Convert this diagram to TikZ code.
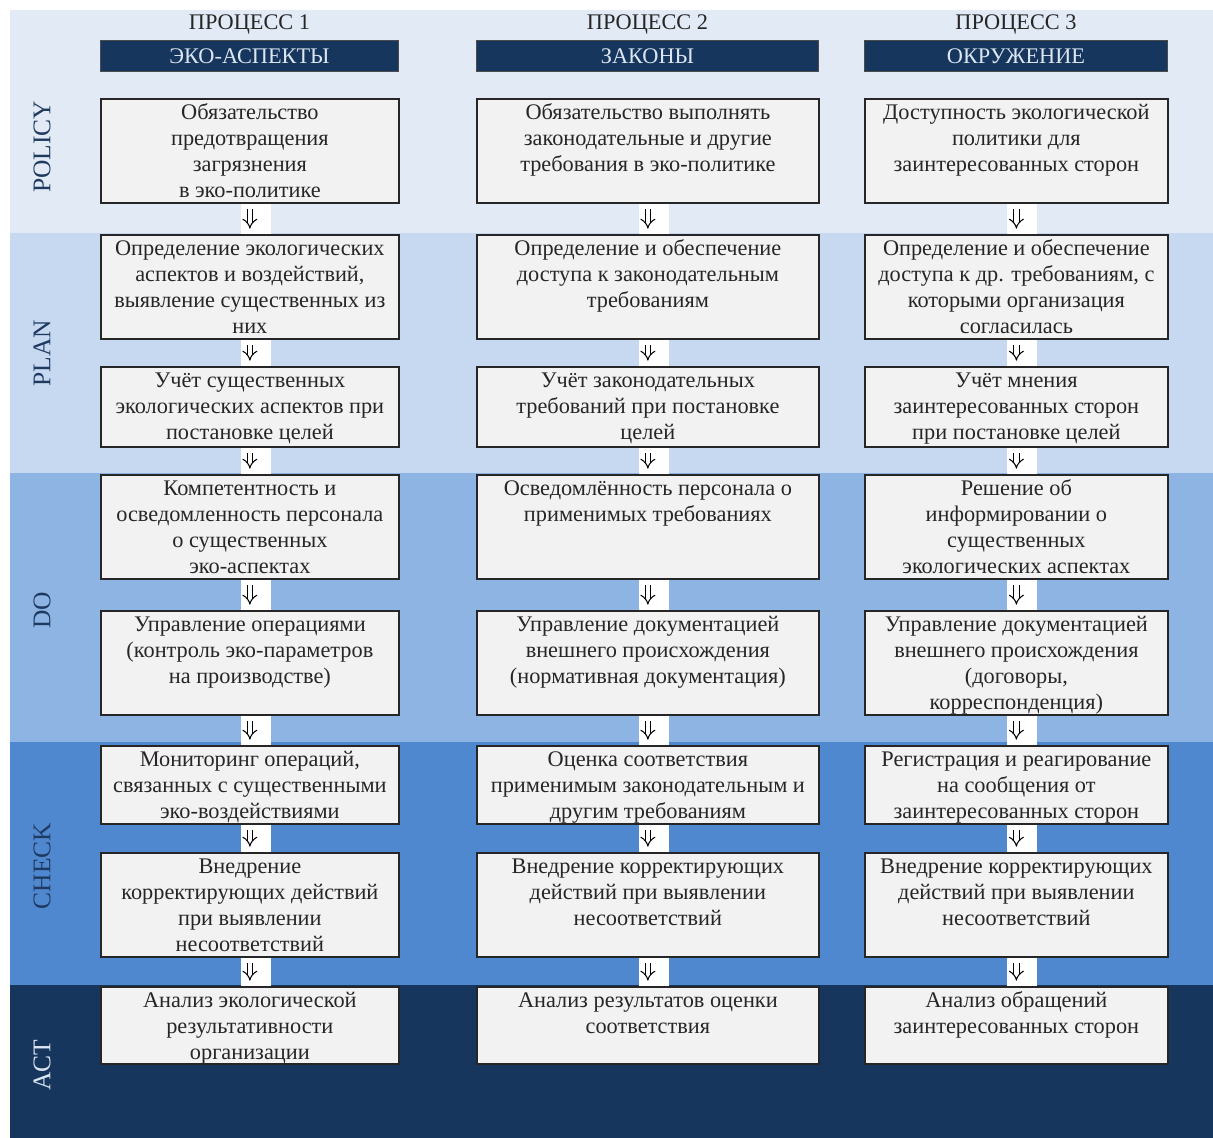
\documentclass[tikz,border=0pt]{standalone}
\usepackage{fontspec}
\setmainfont{Liberation Serif}
\usetikzlibrary{arrows.meta, positioning, backgrounds}

\definecolor{bandpolicy}{HTML}{E2EAF5}
\definecolor{bandplan}{HTML}{C6D9F1}
\definecolor{banddo}{HTML}{8DB4E3}
\definecolor{bandcheck}{HTML}{5088D0}
\definecolor{navy}{HTML}{17365D}
\definecolor{boxgray}{HTML}{F2F2F2}
\definecolor{labelblue}{HTML}{1F3A60}
\definecolor{headtext}{HTML}{DCE6F2}

\newlength\px
\setlength\px{0.02cm}
\newcommand{\cell}[3]{\parbox[c][#2\px][t]{#1\px}{\centering\rule{0pt}{12pt}#3}}

\begin{document}
\begin{tikzpicture}[x=0.02cm, y=-0.02cm,
  stage/.style={draw=black!85, line width=1pt, fill=boxgray, inner sep=0pt, anchor=north west, text=black!85, font=\fontsize{12.7}{14.7}\selectfont},
  header/.style={fill=navy, draw=black!70, line width=0.6pt, inner sep=0pt, anchor=north west, text=headtext, font=\fontsize{12.7}{14}\selectfont},
  proc/.style={font=\fontsize{12.7}{14}\selectfont, text=black!85},
  phase/.style={rotate=90, font=\fontsize{14.5}{16}\selectfont, text=labelblue},
  flow/.style={double, double distance=2.4pt, line width=0.6pt, -{Implies}, shorten <=3pt, shorten >=3pt},
  gap/.style={fill=white}]
  \useasboundingbox (0,0) rectangle (1213,1138);

  % headers
  \node[header, minimum width=5.96cm, minimum height=0.62cm] (h1) at (100,40) {ЭКО-АСПЕКТЫ};
  \node[header, minimum width=6.84cm, minimum height=0.62cm] (h2) at (476,40) {ЗАКОНЫ};
  \node[header, minimum width=6.06cm, minimum height=0.62cm] (h3) at (864,40) {ОКРУЖЕНИЕ};
  \node[proc, above=0pt of h1] (t1) {ПРОЦЕСС 1};
  \node[proc, above=0pt of h2] (t2) {ПРОЦЕСС 2};
  \node[proc, above=0pt of h3] (t3) {ПРОЦЕСС 3};

  % process 1
  \node[stage] (eco1) at (100,98) {\cell{298}{104}{Обязательство\\предотвращения\\загрязнения\\в эко-политике}};
  \node[stage] (eco2) at (100,234) {\cell{298}{104}{Определение экологических\\аспектов и воздействий,\\выявление существенных из\\них}};
  \node[stage] (eco3) at (100,366) {\cell{298}{80}{Учёт существенных\\экологических аспектов при\\постановке целей}};
  \node[stage] (eco4) at (100,474) {\cell{298}{104}{Компетентность и\\осведомленность персонала\\о существенных\\эко-аспектах}};
  \node[stage] (eco5) at (100,610) {\cell{298}{104}{Управление операциями\\(контроль эко-параметров\\на производстве)}};
  \node[stage] (eco6) at (100,745) {\cell{298}{78}{Мониторинг операций,\\связанных с существенными\\эко-воздействиями}};
  \node[stage] (eco7) at (100,852) {\cell{298}{104}{Внедрение\\корректирующих действий\\при выявлении\\несоответствий}};
  \node[stage] (eco8) at (100,986) {\cell{298}{77}{Анализ экологической\\результативности\\организации}};

  % process 2
  \node[stage] (law1) at (476,98) {\cell{342}{104}{Обязательство выполнять\\законодательные и другие\\требования в эко-политике}};
  \node[stage] (law2) at (476,234) {\cell{342}{104}{Определение и обеспечение\\доступа к законодательным\\требованиям}};
  \node[stage] (law3) at (476,366) {\cell{342}{80}{Учёт законодательных\\требований при постановке\\целей}};
  \node[stage] (law4) at (476,474) {\cell{342}{104}{Осведомлённость персонала о\\применимых требованиях}};
  \node[stage] (law5) at (476,610) {\cell{342}{104}{Управление документацией\\внешнего происхождения\\(нормативная документация)}};
  \node[stage] (law6) at (476,745) {\cell{342}{78}{Оценка соответствия\\применимым законодательным и\\другим требованиям}};
  \node[stage] (law7) at (476,852) {\cell{342}{104}{Внедрение корректирующих\\действий при выявлении\\несоответствий}};
  \node[stage] (law8) at (476,986) {\cell{342}{77}{Анализ результатов оценки\\соответствия}};

  % process 3
  \node[stage] (env1) at (864,98) {\cell{303}{104}{Доступность экологической\\политики для\\заинтересованных сторон}};
  \node[stage] (env2) at (864,234) {\cell{303}{104}{Определение и обеспечение\\доступа к др. требованиям, с\\которыми организация\\согласилась}};
  \node[stage] (env3) at (864,366) {\cell{303}{80}{Учёт мнения\\заинтересованных сторон\\при постановке целей}};
  \node[stage] (env4) at (864,474) {\cell{303}{104}{Решение об\\информировании о\\существенных\\экологических аспектах}};
  \node[stage] (env5) at (864,610) {\cell{303}{104}{Управление документацией\\внешнего происхождения\\(договоры,\\корреспонденция)}};
  \node[stage] (env6) at (864,745) {\cell{303}{78}{Регистрация и реагирование\\на сообщения от\\заинтересованных сторон}};
  \node[stage] (env7) at (864,852) {\cell{303}{104}{Внедрение корректирующих\\действий при выявлении\\несоответствий}};
  \node[stage] (env8) at (864,986) {\cell{303}{77}{Анализ обращений\\заинтересованных сторон}};

  % phase bands
  \begin{scope}[on background layer]
    \fill[bandpolicy] (10,10) rectangle (1213,233);
    \fill[bandplan] (10,233) rectangle (1213,473);
    \fill[banddo] (10,473) rectangle (1213,742);
    \fill[bandcheck] (10,742) rectangle (1213,985);
    \fill[navy] (10,985) rectangle (1213,1138);
    \foreach \col in {eco,law,env}
      \foreach \i/\j in {1/2,2/3,3/4,4/5,5/6,6/7,7/8}
        \fill[gap] ([xshift=-0.18cm]\col\i.south) rectangle ([xshift=0.42cm]\col\j.north);
  \end{scope}

  \node[phase] (policy) at (42,147) {POLICY};
  \node[phase] (plan) at (42,353) {PLAN};
  \node[phase] (do) at (42,610) {DO};
  \node[phase] (check) at (42,866) {CHECK};
  \node[phase, text=headtext] (act) at (42,1065) {ACT};

  \foreach \col in {eco,law,env}
    \foreach \i/\j in {1/2,2/3,3/4,4/5,5/6,6/7,7/8}
      \draw[flow] (\col\i.south) -- (\col\j.north);
\end{tikzpicture}
\end{document}
